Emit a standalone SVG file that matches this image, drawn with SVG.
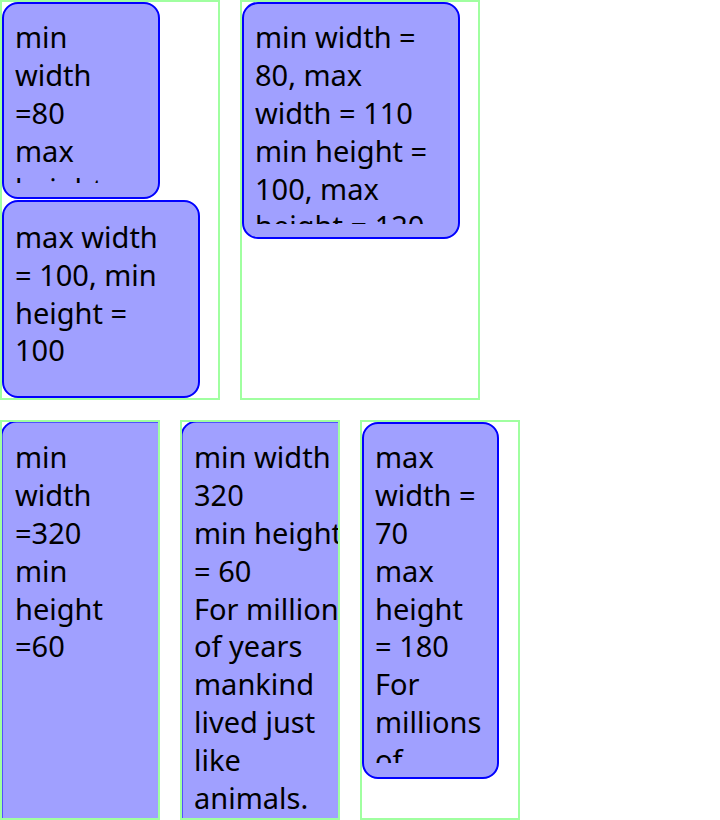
<svg xmlns="http://www.w3.org/2000/svg" width="720" height="820" viewBox="0 0 720 820">
<style>
.cont{fill:none;stroke:#a0ffa0;stroke-width:2}
.node{fill:#a0a0ff;stroke:#0000ff;stroke-width:2}
.t{font-family:"Noto Sans","Open Sans",sans-serif;font-size:29px;fill:#000}
</style>
<defs>
<clipPath id="clipA"><rect x="2" y="2" width="160" height="181"/></clipPath>
<clipPath id="clipC"><rect x="242" y="2" width="220" height="222"/></clipPath>
<clipPath id="clipC3"><rect x="0" y="420" width="160" height="400"/></clipPath>
<clipPath id="clipC4"><rect x="180" y="420" width="158" height="400"/></clipPath>
<clipPath id="clipE"><rect x="362" y="422" width="140" height="341"/></clipPath>
</defs>
<rect width="720" height="820" fill="#fff"/>

<g id="container1">
<g id="nodeA">
<rect class="node" x="3" y="3" width="156" height="195" rx="15"/>
<text class="t" clip-path="url(#clipA)"><tspan x="15" y="48.3">min</tspan><tspan x="15" y="86.1">width</tspan><tspan x="15" y="123.9">=80</tspan><tspan x="15" y="161.7">max</tspan><tspan x="15" y="199.5">height</tspan></text>
</g>
<g id="nodeB">
<rect class="node" x="3" y="201" width="196" height="196" rx="15"/>
<text class="t"><tspan x="15" y="248">max width</tspan><tspan x="15" y="285.8">= 100, min</tspan><tspan x="15" y="323.6">height =</tspan><tspan x="15" y="361.4">100</tspan></text>
</g>
<rect class="cont" x="1" y="1" width="218" height="398"/>
</g>

<g id="container2">
<g id="nodeC">
<rect class="node" x="243" y="3" width="216" height="235" rx="15"/>
<text class="t" clip-path="url(#clipC)"><tspan x="255" y="48.3">min width =</tspan><tspan x="255" y="86.1">80, max</tspan><tspan x="255" y="123.9">width = 110</tspan><tspan x="255" y="161.7">min height =</tspan><tspan x="255" y="199.5">100, max</tspan><tspan x="255" y="237.3">height = 120</tspan></text>
</g>
<rect class="cont" x="241" y="1" width="238" height="398"/>
</g>

<g id="container3">
<g id="node3" clip-path="url(#clipC3)">
<rect class="node" x="1.5" y="421.5" width="320" height="420" rx="15"/>
<text class="t"><tspan x="15" y="468.3">min</tspan><tspan x="15" y="506.1">width</tspan><tspan x="15" y="543.9">=320</tspan><tspan x="15" y="581.7">min</tspan><tspan x="15" y="619.5">height</tspan><tspan x="15" y="657.3">=60</tspan></text>
</g>
<rect class="cont" x="1" y="421" width="158" height="398"/>
</g>

<g id="container4">
<g id="nodeD" clip-path="url(#clipC4)">
<rect class="node" x="181.5" y="421.5" width="320" height="420" rx="15"/>
<text class="t"><tspan x="194" y="468.3">min width =</tspan><tspan x="194" y="506.1">320</tspan><tspan x="194" y="543.9">min height</tspan><tspan x="194" y="581.7">= 60</tspan><tspan x="194" y="619.5">For millions</tspan><tspan x="194" y="657.3">of years</tspan><tspan x="194" y="695.1">mankind</tspan><tspan x="194" y="732.9">lived just</tspan><tspan x="194" y="770.7">like</tspan><tspan x="194" y="808.5">animals.</tspan></text>
</g>
<rect class="cont" x="181" y="421" width="158" height="398"/>
</g>

<g id="container5">
<g id="nodeE">
<rect class="node" x="363" y="423" width="135" height="355" rx="15"/>
<text class="t" clip-path="url(#clipE)"><tspan x="375" y="468.3">max</tspan><tspan x="375" y="506.1">width =</tspan><tspan x="375" y="543.9">70</tspan><tspan x="375" y="581.7">max</tspan><tspan x="375" y="619.5">height</tspan><tspan x="375" y="657.3">= 180</tspan><tspan x="375" y="695.1">For</tspan><tspan x="375" y="732.9">millions</tspan><tspan x="375" y="770.7">of</tspan></text>
</g>
<rect class="cont" x="361" y="421" width="158" height="398"/>
</g>
</svg>
